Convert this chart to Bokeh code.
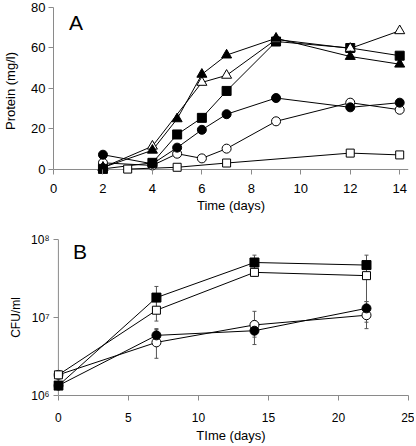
import numpy as np
from bokeh.plotting import figure
from bokeh.layouts import column
from bokeh.models import ColumnDataSource, Whisker, TeeHead, FixedTicker, Label, Span
from bokeh.embed import file_html
from bokeh.resources import INLINE

# ---------------- Panel A data (protein, mg/l) ----------------
a_ftri_x = [2, 4, 5, 6, 7, 9, 12, 14]
a_ftri_y = [1.0, 9.5, 25.0, 47.0, 56.5, 64.8, 55.8, 52.0]
a_otri_x = [2, 4, 6, 7, 9, 12, 14]
a_otri_y = [1.0, 11.5, 43.0, 46.5, 64.2, 59.8, 68.5]
a_fsq_x = [2, 4, 5, 6, 7, 9, 12, 14]
a_fsq_y = [0.3, 3.3, 17.3, 25.5, 38.8, 63.2, 60.0, 56.2]
a_fcir_x = [2, 4, 5, 6, 7, 9, 12, 14]
a_fcir_y = [7.3, 2.8, 10.8, 19.6, 27.3, 35.3, 30.7, 33.0]
a_ocir_x = [2, 4, 5, 6, 7, 9, 12, 14]
a_ocir_y = [3.3, 2.0, 7.8, 5.5, 10.3, 23.8, 33.0, 29.5]
a_osq_x = [3, 5, 7, 12, 14]
a_osq_y = [0.2, 1.1, 3.2, 8.1, 7.2]

a_xticks = [0, 2, 4, 6, 8, 10, 12, 14]
a_yticks = [0, 20, 40, 60, 80]

# ---------------- Panel B data (CFU/ml) ----------------
b_days = [0, 7, 14, 22]
b_fsq = [1.34e6, 1.8e7, 5.07e7, 4.7e7]
b_fsq_up = [1.34e6, 2.5e7, 6.3e7, 6.3e7]
b_fsq_lo = [1.34e6, 1.3e7, 4.1e7, 3.6e7]
b_osq = [1.84e6, 1.24e7, 3.79e7, 3.44e7]
b_osq_up = [1.84e6, 1.6e7, 4.6e7, 4.2e7]
b_osq_lo = [1.84e6, 9.0e6, 3.4e7, 1.6e7]
b_fcir = [1.34e6, 5.9e6, 6.77e6, 1.31e7]
b_fcir_up = [1.34e6, 7.2e6, 9.0e6, 1.6e7]
b_fcir_lo = [1.34e6, 4.6e6, 4.5e6, 8.7e6]
b_ocir = [1.84e6, 4.8e6, 8.03e6, 1.07e7]
b_ocir_up = [1.84e6, 7.0e6, 1.2e7, 1.4e7]
b_ocir_lo = [1.84e6, 3.0e6, 5.6e6, 7.2e6]

b_xticks = [0, 5, 10, 15, 20, 25]
b_yticks = [1e6, 1e7, 1e8]
b_ylabels = ["10\u2076", "10\u2077", "10\u2078"]

FONT = "Liberation Sans"
AXC = "#8a8a8a"


def style(p, tick_size, title_size):
    p.outline_line_color = None
    p.xgrid.grid_line_color = None
    p.ygrid.grid_line_color = None
    for ax in (p.xaxis[0], p.yaxis[0]):
        ax.axis_line_color = AXC
        ax.major_tick_line_color = AXC
        ax.major_tick_in = 0
        ax.major_tick_out = 5
        ax.minor_tick_line_color = None
        ax.major_label_text_font = FONT
        ax.major_label_text_font_size = tick_size
        ax.major_label_text_color = "black"
        ax.axis_label_text_font = FONT
        ax.axis_label_text_font_size = title_size
        ax.axis_label_text_font_style = "normal"
        ax.axis_label_text_color = "black"
        ax.major_label_standoff = 4
        ax.axis_label_standoff = 4


# ---------------- Panel A ----------------
pa = figure(width=414, height=218, x_range=(0, 14.356), y_range=(-2.47, 80),
            output_backend="svg", toolbar_location=None,
            min_border_left=51, min_border_right=0, min_border_top=7, min_border_bottom=44)
style(pa, "13px", "13px")
pa.xaxis.ticker = FixedTicker(ticks=a_xticks)
pa.yaxis.ticker = FixedTicker(ticks=a_yticks)
pa.xaxis.bounds = (0, 14)
pa.yaxis.bounds = (0, 80)
# x axis line drawn at y = 0 (slightly above the frame edge so markers at 0 are not cut)
pa.xaxis.axis_line_color = None
pa.xaxis.major_tick_in = 5
pa.xaxis.major_tick_out = 0
pa.add_layout(Span(location=0, dimension="width", line_color=AXC, line_width=1, level="underlay"))
pa.xaxis.axis_label = "Time (days)"
pa.yaxis.axis_label = "Protein (mg/l)"
pa.xaxis.major_label_standoff = 9
pa.xaxis.axis_label_standoff = 2
pa.yaxis.major_label_standoff = 3
pa.yaxis.axis_label_standoff = 10

series_a = [
    (a_osq_x, a_osq_y, "square", "white", 8),
    (a_ocir_x, a_ocir_y, "circle", "white", 9),
    (a_fcir_x, a_fcir_y, "circle", "black", 9),
    (a_fsq_x, a_fsq_y, "square", "black", 9),
    (a_otri_x, a_otri_y, "triangle", "white", 10),
    (a_ftri_x, a_ftri_y, "triangle", "black", 10),
]
for xs, ys, mk, fill, sz in series_a:
    pa.line(xs, ys, line_color="black", line_width=1)
for xs, ys, mk, fill, sz in series_a:
    pa.scatter(xs, ys, marker=mk, size=sz, fill_color=fill, line_color="black", line_width=1)

pa.add_layout(Label(x=0.63, y=67, text="A", text_font=FONT, text_font_size="21px",
                    text_color="black"))

# ---------------- Panel B ----------------
pb = figure(width=414, height=227, x_range=(-0.35, 25), y_range=(1e6, 1e8), y_axis_type="log",
            output_backend="svg", toolbar_location=None,
            min_border_left=46, min_border_right=6, min_border_top=21, min_border_bottom=48)
style(pb, "12px", "13px")
pb.xaxis.ticker = FixedTicker(ticks=b_xticks)
pb.yaxis.ticker = FixedTicker(ticks=b_yticks)
pb.xaxis.bounds = (0, 25)
# y axis line drawn at x = 0
pb.yaxis.axis_line_color = None
pb.yaxis.major_tick_in = 5
pb.yaxis.major_tick_out = 0
pb.add_layout(Span(location=0, dimension="height", line_color=AXC, line_width=1, level="underlay"))
pb.yaxis.major_label_overrides = {t: l for t, l in zip(b_yticks, b_ylabels)}
pb.yaxis.major_label_standoff = 4
pb.yaxis.axis_label_standoff = 5
pb.xaxis.axis_label = "TIme (days)"
pb.yaxis.axis_label = "CFU/ml"
pb.yaxis.axis_label_text_font_size = "12px"
pb.xaxis.major_label_standoff = 12
pb.xaxis.axis_label_standoff = 3

series_b = [
    (b_ocir, b_ocir_up, b_ocir_lo, "circle", "white", 9),
    (b_fcir, b_fcir_up, b_fcir_lo, "circle", "black", 9),
    (b_osq, b_osq_up, b_osq_lo, "square", "white", 8),
    (b_fsq, b_fsq_up, b_fsq_lo, "square", "black", 9),
]
for ys, up, lo, mk, fill, sz in series_b:
    src = ColumnDataSource(dict(x=b_days, upper=up, lower=lo))
    pb.add_layout(Whisker(source=src, base="x", upper="upper", lower="lower",
                          line_color="#555555", line_width=1,
                          upper_head=TeeHead(size=4, line_color="#555555", line_width=1),
                          lower_head=TeeHead(size=4, line_color="#555555", line_width=1)))
for ys, up, lo, mk, fill, sz in series_b:
    pb.line(b_days, ys, line_color="black", line_width=1)
for ys, up, lo, mk, fill, sz in series_b:
    pb.scatter(b_days, ys, marker=mk, size=sz, fill_color=fill, line_color="black", line_width=1)

pb.add_layout(Label(x=1.05, y=4.97e7, text="B", text_font=FONT, text_font_size="21px",
                    text_color="black"))

layout = column(pa, pb, spacing=0)
open("out.html", "w").write(file_html(layout, INLINE))
